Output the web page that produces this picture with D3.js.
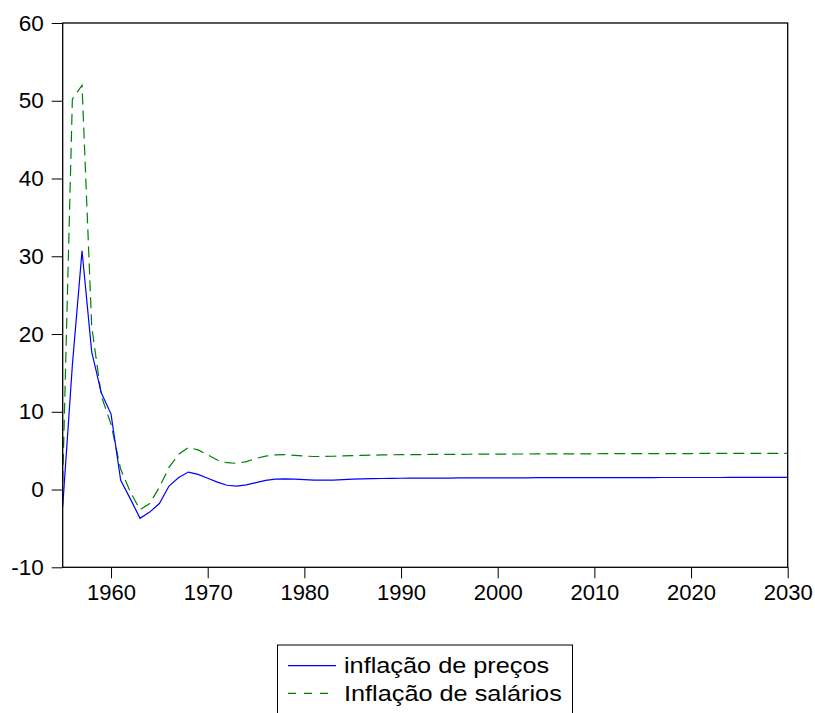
<!DOCTYPE html>
<html>
<head>
<meta charset="utf-8">
<script src="https://cdn.jsdelivr.net/npm/d3@7"></script>
<style>
  body { margin: 0; background: #fff; }
  text { font-family: "Liberation Sans", Arial, sans-serif; fill: #000; }
</style>
</head>
<body>
<div id="chart"></div>
<script>
var years = d3.range(1955, 2031);

// inflação de preços
var precos = [
  -2.2, 16.0, 30.7, 17.7, 12.4, 9.7, 1.2, -1.2, -3.7, -2.9,
  -1.8, 0.45, 1.55, 2.25, 1.95, 1.45, 0.95, 0.55, 0.45, 0.6,
  0.88, 1.18, 1.35, 1.36, 1.33, 1.28, 1.22, 1.2, 1.22, 1.28,
  1.33, 1.37, 1.4, 1.42, 1.44, 1.45, 1.46, 1.47, 1.47, 1.48,
  1.48, 1.49, 1.49, 1.5, 1.5, 1.5, 1.51, 1.51, 1.51, 1.52,
  1.52, 1.52, 1.52, 1.53, 1.53, 1.53, 1.53, 1.54, 1.54, 1.54,
  1.54, 1.54, 1.55, 1.55, 1.55, 1.55, 1.55, 1.55, 1.55, 1.56,
  1.56, 1.56, 1.56, 1.56, 1.56, 1.56
];

// Inflação de salários
var salarios = [
  1.0, 50.2, 52.0, 21.0, 12.0, 8.4, 2.6, -0.3, -2.6, -1.8,
  0.3, 2.85, 4.55, 5.4, 5.1, 4.45, 3.8, 3.45, 3.37, 3.6,
  4.0, 4.3, 4.47, 4.48, 4.4, 4.3, 4.25, 4.25, 4.28, 4.32,
  4.36, 4.4, 4.43, 4.45, 4.47, 4.48, 4.49, 4.5, 4.51, 4.52,
  4.53, 4.53, 4.54, 4.55, 4.55, 4.56, 4.56, 4.57, 4.57, 4.58,
  4.58, 4.59, 4.59, 4.6, 4.6, 4.6, 4.61, 4.61, 4.61, 4.62,
  4.62, 4.62, 4.63, 4.63, 4.63, 4.63, 4.64, 4.64, 4.64, 4.64,
  4.65, 4.65, 4.65, 4.65, 4.65, 4.65
];

var xTicks = [1960, 1970, 1980, 1990, 2000, 2010, 2020, 2030];
var yTicks = [-10, 0, 10, 20, 30, 40, 50, 60];
var legendLabels = ["inflação de preços", "Inflação de salários"];

var width = 815, height = 713;
var plotLeft = 62.7, plotRight = 787.7, plotTop = 23, plotBottom = 567.3;

var svg = d3.select("#chart")
  .append("svg")
  .attr("width", width)
  .attr("height", height);

var x = d3.scaleLinear().domain([1955, 2030]).range([plotLeft, plotRight]);
var y = d3.scaleLinear().domain([-10, 60]).range([plotBottom, plotTop]);

// y axis (plain hyphen for negatives, like the original)
var yAxis = svg.append("g")
  .attr("transform", "translate(" + plotLeft + ",0)")
  .call(d3.axisLeft(y).tickValues(yTicks).tickSize(11).tickPadding(8).tickFormat(function(d) { return String(d); }));
yAxis.select(".domain").remove();
yAxis.selectAll("text").style("font-size", "22.5px").attr("font-family", null);
yAxis.selectAll("line").attr("stroke", "#000");

// x axis
var xAxis = svg.append("g")
  .attr("transform", "translate(0," + plotBottom + ")")
  .call(d3.axisBottom(x).tickValues(xTicks).tickSize(11).tickPadding(6).tickFormat(function(d) { return String(d); }));
xAxis.select(".domain").remove();
xAxis.selectAll("text").style("font-size", "22px").attr("font-family", null);
xAxis.selectAll("line").attr("stroke", "#000");

var line = d3.line()
  .x(function(d) { return x(d[0]); })
  .y(function(d) { return y(d[1]); });

svg.append("path")
  .datum(d3.zip(years, salarios))
  .attr("d", line)
  .attr("fill", "none")
  .attr("stroke", "#008000")
  .attr("stroke-width", 1.2)
  .attr("stroke-dasharray", "11,6");

svg.append("path")
  .datum(d3.zip(years, precos))
  .attr("d", line)
  .attr("fill", "none")
  .attr("stroke", "#0000ff")
  .attr("stroke-width", 1.2);

// frame
svg.append("rect")
  .attr("x", plotLeft)
  .attr("y", plotTop)
  .attr("width", plotRight - plotLeft)
  .attr("height", plotBottom - plotTop)
  .attr("fill", "none")
  .attr("stroke", "#000")
  .attr("stroke-width", 1.3);

// legend
var legend = svg.append("g");
legend.append("rect")
  .attr("x", 277.5)
  .attr("y", 645)
  .attr("width", 295)
  .attr("height", 80)
  .attr("fill", "none")
  .attr("stroke", "#000")
  .attr("stroke-width", 1);

var items = legend.selectAll(".item")
  .data(legendLabels)
  .enter().append("g")
  .attr("class", "item")
  .attr("transform", function(d, i) { return "translate(0," + (665.7 + i * 27.6) + ")"; });

items.append("line")
  .attr("x1", 288)
  .attr("x2", 336)
  .attr("stroke", function(d, i) { return i === 0 ? "#0000ff" : "#008000"; })
  .attr("stroke-width", 1.2)
  .attr("stroke-dasharray", function(d, i) { return i === 0 ? null : "8,8"; });

items.append("text")
  .attr("transform", "translate(344,0) scale(1.15,1)")
  .attr("dy", "0.35em")
  .style("font-size", "22px")
  .text(function(d) { return d; });
</script>
</body>
</html>
